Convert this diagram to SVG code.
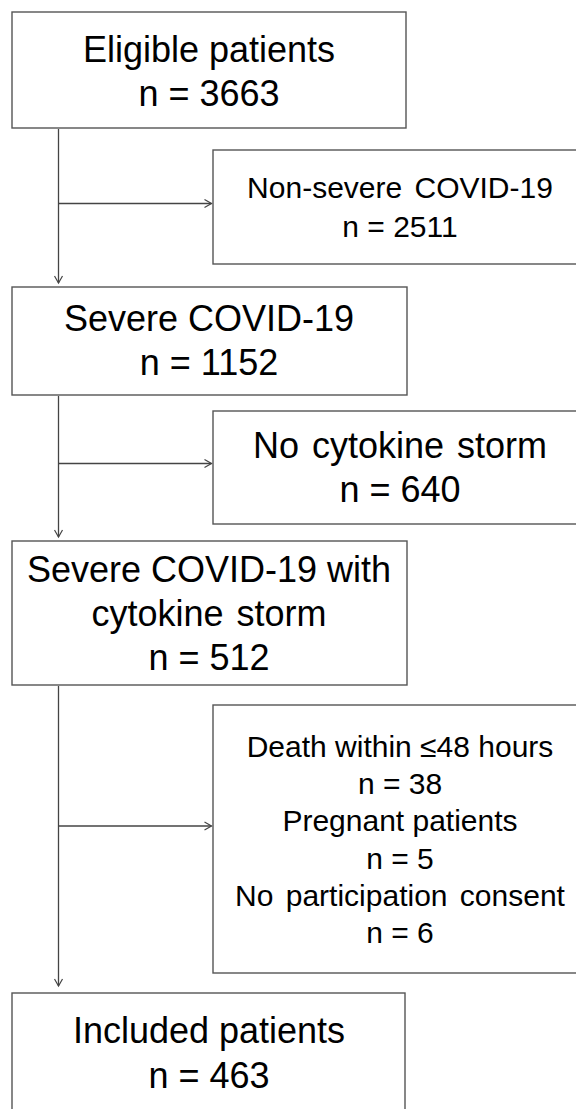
<svg xmlns="http://www.w3.org/2000/svg" width="576" height="1109" viewBox="0 0 576 1109">
<defs>
<style>
.box{fill:#fff;stroke:#555;stroke-width:1.4}
.t{font-family:"Liberation Sans",Arial,sans-serif;fill:#000;text-anchor:middle}
.l{font-size:36px}
.r{font-size:30px}
.c{fill:none;stroke:#444;stroke-width:1.3}
</style>
<marker id="ah" markerWidth="10" markerHeight="10" refX="8" refY="5" orient="auto" markerUnits="userSpaceOnUse">
<path d="M1,1 L8,5 L1,9" fill="none" stroke="#444" stroke-width="1.2"/>
</marker>
</defs>
<rect width="576" height="1109" fill="#fff"/>
<g id="connectors">
<line class="c" x1="58.5" y1="129" x2="58.5" y2="283" marker-end="url(#ah)"/>
<line class="c" x1="58.5" y1="203.5" x2="211.5" y2="203.5" marker-end="url(#ah)"/>
<line class="c" x1="58.5" y1="396" x2="58.5" y2="537" marker-end="url(#ah)"/>
<line class="c" x1="58.5" y1="463.5" x2="211.5" y2="463.5" marker-end="url(#ah)"/>
<line class="c" x1="58.5" y1="686" x2="58.5" y2="986" marker-end="url(#ah)"/>
<line class="c" x1="58.5" y1="826" x2="211.5" y2="826" marker-end="url(#ah)"/>
</g>
<g id="eligible">
<rect class="box" x="12" y="12" width="394" height="116"/>
<text class="t l" x="209" y="62">Eligible patients</text>
<text class="t l" x="209" y="106">n = 3663</text>
</g>
<g id="nonsevere">
<rect class="box" x="213" y="150" width="372" height="114"/>
<text class="t r" x="400" y="198" word-spacing="4">Non-severe COVID-19</text>
<text class="t r" x="400" y="237">n = 2511</text>
</g>
<g id="severe">
<rect class="box" x="12" y="287" width="395" height="108"/>
<text class="t l" x="209" y="331">Severe COVID-19</text>
<text class="t l" x="209" y="375">n = 1152</text>
</g>
<g id="nostorm">
<rect class="box" x="213" y="411" width="372" height="113"/>
<text class="t l" x="400" y="458" word-spacing="3">No cytokine storm</text>
<text class="t l" x="400" y="502">n = 640</text>
</g>
<g id="severestorm">
<rect class="box" x="12" y="541" width="395" height="144"/>
<text class="t l" x="209" y="582">Severe COVID-19 with</text>
<text class="t l" x="209" y="626" word-spacing="3">cytokine storm</text>
<text class="t l" x="209" y="670">n = 512</text>
</g>
<g id="excluded">
<rect class="box" x="213" y="705" width="372" height="268"/>
<text class="t r" x="400" y="757">Death within ≤48 hours</text>
<text class="t r" x="400" y="794">n = 38</text>
<text class="t r" x="400" y="831">Pregnant patients</text>
<text class="t r" x="400" y="869">n = 5</text>
<text class="t r" x="400" y="906" word-spacing="4">No participation consent</text>
<text class="t r" x="400" y="943">n = 6</text>
</g>
<g id="included">
<rect class="box" x="12" y="993" width="393" height="130"/>
<text class="t l" x="209" y="1043">Included patients</text>
<text class="t l" x="209" y="1088">n = 463</text>
</g>
</svg>
